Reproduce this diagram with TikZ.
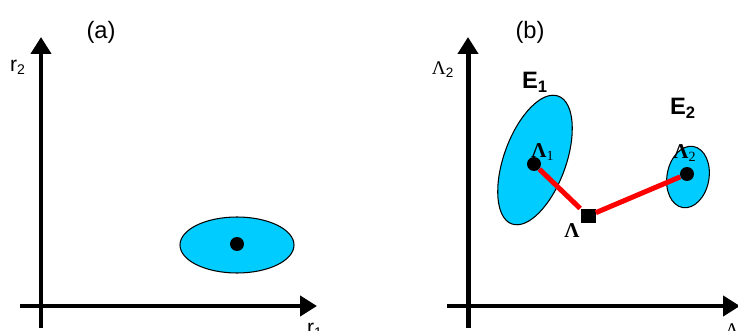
\documentclass[tikz,border=0pt]{standalone}
\usepackage{fontspec}
\setmainfont{Liberation Sans}
\newfontfamily\greekserif{Liberation Serif}
\usetikzlibrary{arrows.meta}

\definecolor{blobcyan}{RGB}{0,204,255}

\tikzset{
    axis/.style={line width=0.1cm, -{Triangle[length=0.34cm,width=0.4cm]}},
    blob/.style={fill=blobcyan, draw=black, line width=0.6pt},
    dot/.style={circle, fill=black, inner sep=0pt, minimum size=0.28cm},
    sqdot/.style={rectangle, fill=black, inner sep=0pt, minimum size=0.3cm},
    link/.style={red, line width=0.1cm},
    panel/.style={font=\fontsize{13.5}{16}\selectfont},
    axlabel/.style={font=\fontsize{12}{14}\selectfont},
    lamaxis/.style={font=\fontsize{11}{13}\selectfont},
    lamlabel/.style={font=\fontsize{12}{14}\selectfont\greekserif\bfseries},
    elabel/.style={font=\fontsize{13.5}{16}\selectfont\bfseries},
}

\begin{document}
\begin{tikzpicture}[x=0.02cm, y=-0.02cm]

            \useasboundingbox (0,0) rectangle (738,331);

            % (a)
            \coordinate (ao) at (41,328);
            \coordinate (at) at (41,37);
            \coordinate (al) at (20,306);
            \coordinate (ar) at (317,306);
            \draw[axis] (ao) -- (at);
            \draw[axis] (al) -- (ar);

            \node[panel] (pa) at (101,32) {(a)};
            \node[axlabel] (r2) at (18,67) {r\textsubscript{2}};
            \node[axlabel, anchor=north] (r1) at (315,317) {r\textsubscript{1}};

            \filldraw[blob] (237,245) ellipse [x radius=57, y radius=28];
            \node[dot] (p) at (237,244) {};

            % (b)
            \coordinate (bo) at (468,328);
            \coordinate (bt) at (468,37);
            \coordinate (bl) at (447,306);
            \coordinate (br) at (740,306);
            \draw[axis] (bo) -- (bt);
            \draw[axis] (bl) -- (br);

            \node[panel] (pb) at (530,32) {(b)};
            \node[lamaxis] (ly) at (443,70) {{\greekserif Λ}\textsubscript{2}};
            \node[lamaxis, anchor=north west] (lx) at (719,318) {{\greekserif Λ}\textsubscript{1}};

            \filldraw[blob, rotate around={70:(535,160)}] (535,160) ellipse [x radius=68, y radius=31];
            \filldraw[blob, rotate around={80:(688,177)}] (688,177) ellipse [x radius=31, y radius=21];

            \node[elabel] (e1) at (535,82) {E\textsubscript{1}};
            \node[elabel] (e2) at (683,108) {E\textsubscript{2}};

            \node[dot] (L1) at (534,164) {};
            \node[dot] (L2) at (687,174) {};
            \node[sqdot] (L) at (588,216) {};

            \draw[link] (L1) -- (L) -- (L2);

            \node[lamlabel] (t1) at (543,152) {Λ\textsubscript{\mdseries 1}};
            \node[lamlabel] (t2) at (685,153) {Λ\textsubscript{\mdseries 2}};
            \node[lamlabel] (t) at (572,231) {Λ};

        \end{tikzpicture}
\end{document}
